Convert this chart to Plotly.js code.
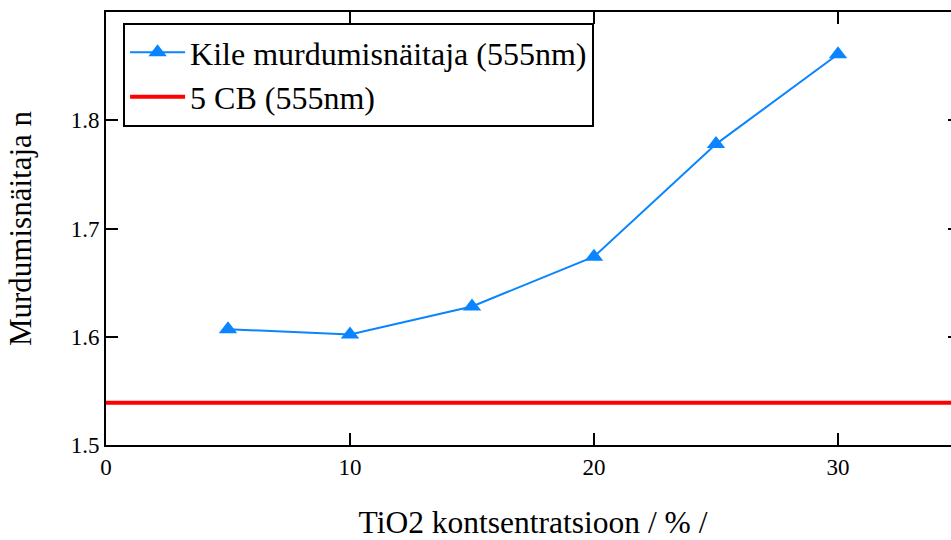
<!DOCTYPE html>
<html>
<head>
<meta charset="utf-8">
<script src="https://cdn.plot.ly/plotly-3.0.1.min.js"></script>
<style>
  html, body { margin: 0; padding: 0; overflow: hidden; background: #fff; }
  #chart { width: 962px; height: 540px; }
</style>
</head>
<body>
<div id="chart"></div>
<script>
// TiO2 concentration (%) and measured refractive index of the wedge films
const tio2Percent = [5, 10, 15, 20, 25, 30];
const filmIndex = [1.607, 1.602, 1.628, 1.674, 1.778, 1.861];

// Reference: 5CB liquid crystal index at 555 nm
const cbIndex = 1.539;
const xRange = [0, 35];
const yRange = [1.5, 1.9];

const xTicks = [0, 10, 20, 30];
const yTicks = [1.5, 1.6, 1.7, 1.8];

const seriesNames = ['Kile murdumisnäitaja (555nm)', '5 CB (555nm)'];

const serif = '"Liberation Serif", "Times New Roman", Times, serif';

const traces = [
  {
    x: tio2Percent,
    y: filmIndex,
    name: seriesNames[0],
    type: 'scatter',
    mode: 'lines+markers',
    line: { color: '#0a84ff', width: 2 },
    marker: { symbol: 'triangle-up', size: 16, color: '#0a84ff' }
  },
  {
    x: xRange,
    y: xRange.map(() => cbIndex),
    name: seriesNames[1],
    type: 'scatter',
    mode: 'lines',
    line: { color: '#ff0000', width: 4 }
  }
];

const axisCommon = {
  showline: true,
  linecolor: '#000',
  linewidth: 2,
  mirror: 'ticks',
  ticks: 'inside',
  ticklen: 12,
  tickwidth: 2,
  tickcolor: '#000',
  showgrid: false,
  zeroline: false,
  tickfont: { family: serif, size: 23, color: '#000' }
};

const layout = {
  width: 962,
  height: 540,
  margin: { l: 106, r: 2, t: 12, b: 95 },
  paper_bgcolor: '#fff',
  plot_bgcolor: '#fff',
  font: { family: serif, color: '#000' },
  xaxis: Object.assign({}, axisCommon, {
    range: xRange,
    tickvals: xTicks,
    ticktext: xTicks.map(String),
    title: { text: 'TiO2 kontsentratsioon / % /', font: { family: serif, size: 31.5, color: '#000' }, standoff: 40 }
  }),
  yaxis: Object.assign({}, axisCommon, {
    range: yRange,
    tickvals: yTicks,
    ticktext: yTicks.map(v => v.toFixed(1)),
    title: { text: 'Murdumisnäitaja n', font: { family: serif, size: 31, color: '#000' }, standoff: 30 }
  }),
  showlegend: true,
  legend: {
    x: 0.02,
    y: 0.975,
    xanchor: 'left',
    yanchor: 'top',
    bgcolor: '#fff',
    bordercolor: '#000',
    borderwidth: 2,
    itemwidth: 55,
    tracegroupgap: 0,
    font: { family: serif, size: 32, color: '#000' }
  }
};

Plotly.newPlot('chart', traces, layout, { displayModeBar: false, staticPlot: true });
</script>
</body>
</html>
